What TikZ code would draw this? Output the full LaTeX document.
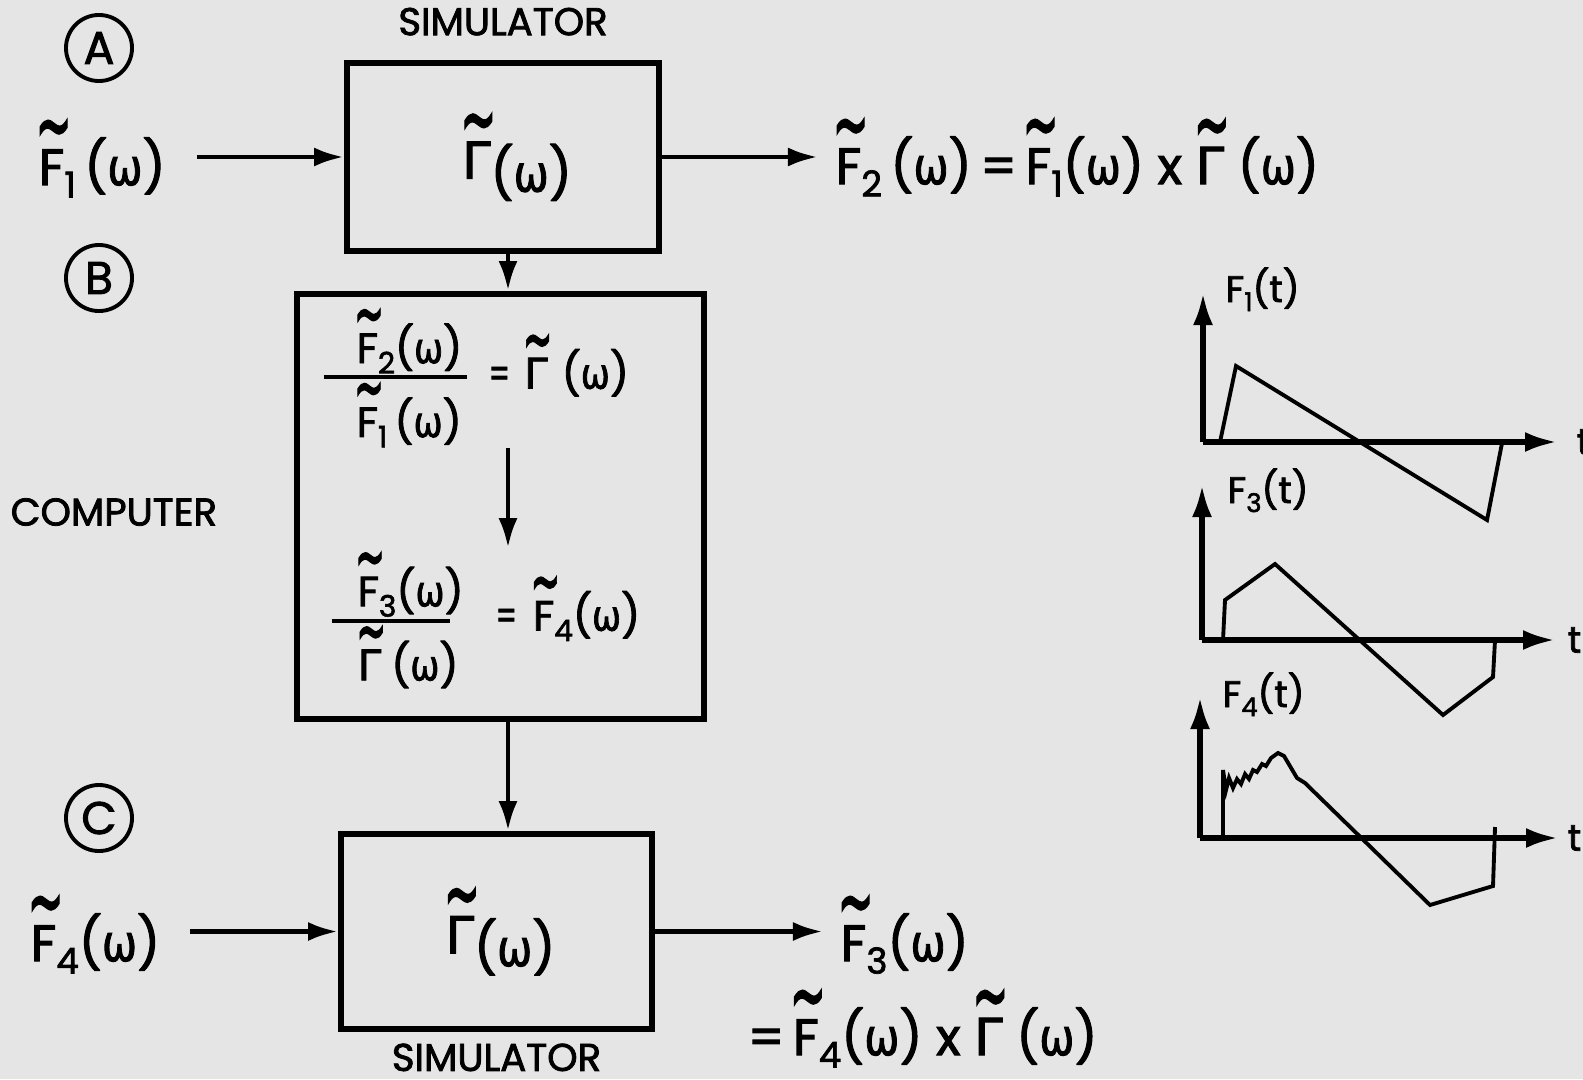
\documentclass[tikz,border=0pt]{standalone}
\usepackage{amsmath}
\usepackage{fontspec}
\setmainfont{Poppins}[FakeBold=2]
\newfontfamily\grk{DejaVu Sans}[FakeBold=2]
\usepackage{tikz}
\usetikzlibrary{arrows.meta,positioning}
\newcommand{\om}{\scalebox{.82}[1]{\grk ω}}
\newcommand{\tl}[1]{\ooalign{\hidewidth\kern.08em\raisebox{.57em}{\scalebox{.85}[1.8]{\grk\textasciitilde}}\hidewidth\cr#1\cr}}
\newcommand{\Ft}[1]{\tl{F}\raisebox{-.45ex}{\scalebox{.7}{#1}}}
\newcommand{\Gt}{\tl{\grk Γ}}
\newcommand{\Fs}[1]{F\raisebox{-.45ex}{\scalebox{.7}{#1}}}
\newcommand{\eqs}{\scalebox{.7}[1]{=}}
% ratio: lead-in, bar length, numerator, denominator
\newcommand{\ratio}[4]{$\vcenter{\hbox{\kern#1#3}\kern0.5pt\hrule width #2 height 1.2pt\kern0.9pt\hbox{\kern#1#4}}$}
\tikzset{
  simbox/.style={draw, line width=1.6pt, inner sep=0pt, font=\fontsize{14.5}{17}\selectfont},
  compbox/.style={draw, line width=1.6pt},
  tag/.style={circle, draw, line width=1.1pt, minimum size=0.66cm, inner sep=0pt, font=\fontsize{13}{15}\selectfont},
  sig/.style={inner sep=0pt, font=\fontsize{14.5}{17}\selectfont},
  eqn/.style={inner sep=0pt, font=\fontsize{12}{14}\selectfont},
  title/.style={inner sep=0pt, font=\fontsize{11}{13}\selectfont},
  plt/.style={inner sep=0pt, font=\fontsize{10.5}{12}\selectfont},
  line/.style={-{Latex[length=3mm,width=1.9mm]}, line width=1.4pt},
  axis/.style={-{Latex[length=3.2mm,width=2mm]}, line width=1.5pt},
  wave/.style={line width=1.1pt, line join=miter}
}
\begin{document}
\begin{tikzpicture}[x=0.01cm, y=-0.01cm]
  \useasboundingbox (0,0) rectangle (1583,1079);
  \fill[black!10] (0,0) rectangle (1583,1079);
  % section tags
  \node[tag] (tagA) at (99,48) {A};
  \node[tag] (tagB) at (99,278) {B};
  \node[tag] (tagC) at (99,818) {C};
  % A: simulator
  \node[simbox, minimum width=3.12cm, minimum height=1.88cm] (sim1) at (503,157) {\kern0.28cm\raisebox{-0.1cm}{\Gt\raisebox{-.25em}{(\om)}}};
  \node[title, above=0.24cm of sim1] (simtop) {SIMULATOR};
  \node[sig, anchor=base west] (in1) at (38,185) {\Ft{1}\,(\om)};
  \node[sig, anchor=base west] (out1) at (835,184) {\Ft{2}\,(\om)\,=\,\Ft{1}(\om) x \Gt\ (\om)};
  \draw[line, shorten <=0.31cm] (sim1.west -| in1.east) -- (sim1.west);
  \draw[line, shorten >=0.17cm] (sim1.east) -- (sim1.east -| out1.west);
  % B: computer
  \coordinate (spine) at (508,500);
  \node[compbox, minimum width=4.07cm, minimum height=4.25cm] (comp) at (500.5,506.5) {};
  \node[title, anchor=west] (complbl) at (10,512) {COMPUTER};
  \draw[line] (sim1.south -| spine) -- (comp.north -| spine);
  \node[eqn, anchor=west] (eq1) at (323,378) {\ratio{0.33cm}{1.43cm}{\Ft{2}(\om)}{\Ft{1}\,(\om)}\kern0.22cm\eqs\kern0.14cm\Gt\kern0.14cm(\om)};
  \node[eqn, anchor=west] (eq2) at (331,620) {\ratio{0.26cm}{1.18cm}{\Ft{3}(\om)}{\Gt\kern0.1cm(\om)}\kern0.32cm\eqs\kern0.16cm\Ft{4}(\om)};
  \draw[line, shorten >=0.03cm] (eq1.south -| spine) -- (eq2.north -| spine);
  % C: simulator
  \node[simbox, minimum width=3.11cm, minimum height=1.95cm] (sim2) at (496.5,931.5) {\kern0.08cm\raisebox{-0.05cm}{\Gt\raisebox{-.25em}{(\om)}}};
  \node[title, below=0.11cm of sim2] (simbot) {SIMULATOR};
  \draw[line] (comp.south -| spine) -- (sim2.north -| spine);
  \node[sig, anchor=base west] (in2) at (30,961) {\Ft{4}(\om)};
  \node[sig, anchor=base west] (out2) at (840,961) {\Ft{3}(\om)};
  \node[sig, anchor=base west] (prod2) at (747,1055) {=\,\Ft{4}(\om) x \Gt\ (\om)};
  \draw[line, shorten <=0.29cm] (sim2.west -| in2.east) -- (sim2.west);
  \draw[line, shorten >=0.17cm] (sim2.east) -- (sim2.east -| out2.west);
  % time histories
  \coordinate (o1) at (1203,442);
  \draw[axis] (o1) -- ++(0,-149);
  \draw[axis] (o1) -- ++(354,0);
  \draw[wave] (1220,442) -- (1236,366) -- (1487,520) -- (1502,443);
  \node[plt, anchor=base west] (f1lbl) at (1225,302) {\Fs{1}(t)};
  \node[plt, anchor=west] (t1) at (1576,442) {t};
  \coordinate (o3) at (1202,640);
  \draw[axis] (o3) -- ++(0,-155);
  \draw[axis] (o3) -- ++(353,0);
  \draw[wave] (1223,640) -- (1225,600) -- (1275,564) -- (1443,715) -- (1493,677) -- (1495,640);
  \node[plt, anchor=base west] (f3lbl) at (1227,503) {\Fs{3}(t)};
  \node[plt, anchor=west] (t3) at (1567,640) {t};
  \coordinate (o4) at (1200,838);
  \draw[axis] (o4) -- ++(0,-141);
  \draw[axis] (o4) -- ++(358,0);
  \draw[wave] (1223,838) -- (1223,770) -- (1226,790) -- (1229,778) -- (1233,788) -- (1237,779)
    -- (1241,784) -- (1245,774) -- (1249,779) -- (1253,770) -- (1257,772) -- (1262,764)
    -- (1266,766) -- (1271,758) -- (1278,753) -- (1284,756) -- (1297,778) -- (1305,783)
    -- (1430,905) -- (1493,886) -- (1495,827);
  \node[plt, anchor=base west] (f4lbl) at (1222,707) {\Fs{4}(t)};
  \node[plt, anchor=west] (t4) at (1567,838) {t};
\end{tikzpicture}
\end{document}
